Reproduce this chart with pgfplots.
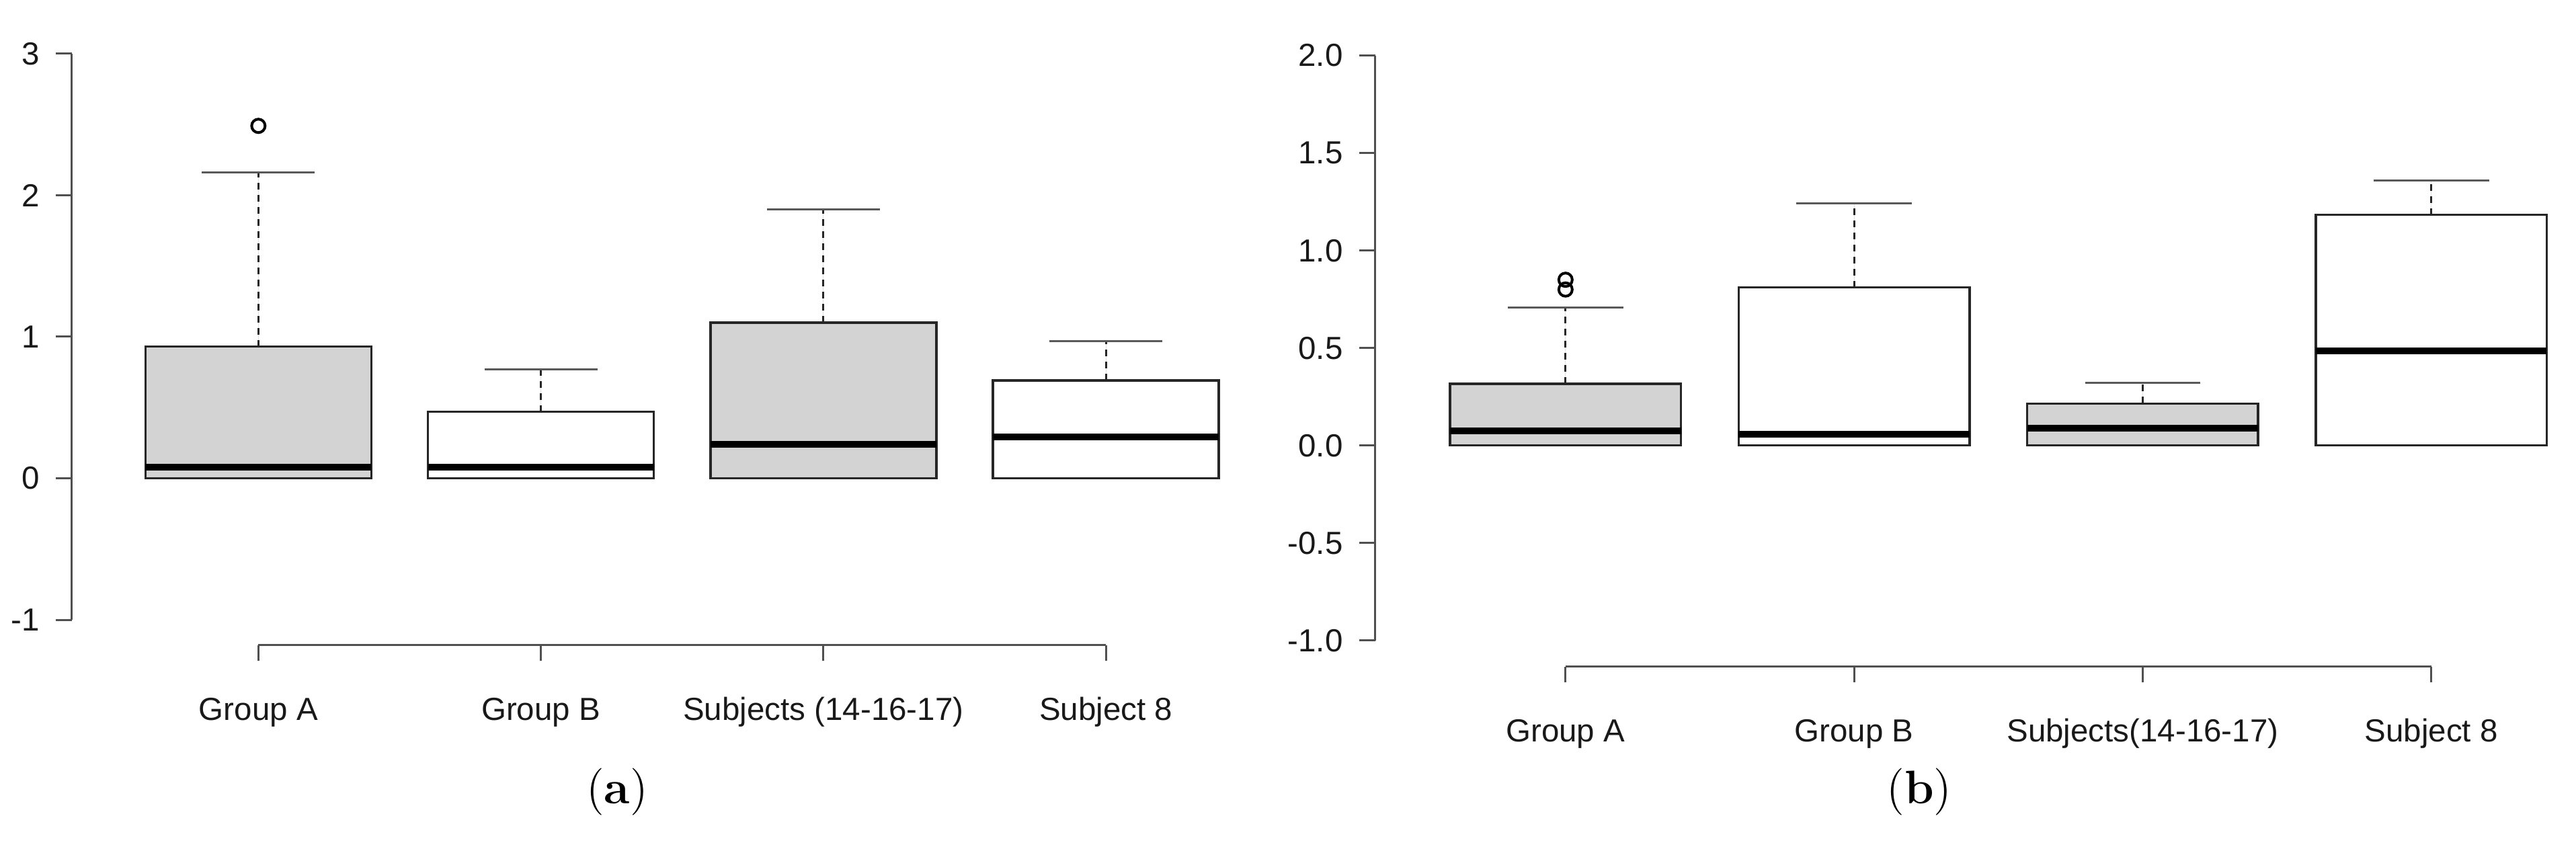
\documentclass[border=0pt]{standalone}
\usepackage{fontspec}
\setsansfont{Liberation Sans}
\usepackage{pgfplots}
\pgfplotsset{compat=1.18}
\usepgfplotslibrary{statistics}

\definecolor{boxgray}{HTML}{D3D3D3}
\definecolor{axgray}{HTML}{505050}

\pgfplotsset{
  rpanel/.style={
    scale only axis,
    axis x line*=bottom, axis y line*=left,
    axis line style={draw=none},
    xmin=0.34, xmax=4.66,
    xtick={1,2,3,4},
    tick align=outside,
    major tick length=4.7pt,
    tick style={axgray, line width=0.6pt},
    tick label style={font=\sffamily\fontsize{9.5}{11}\selectfont, text=black!90},
    yticklabel style={anchor=east, inner sep=0pt, xshift=-4.7pt},
    xticklabel style={anchor=base, inner sep=0pt, yshift=-17.7pt},
    clip=false,
  },
  rbox/.style={
    draw=black!85, line width=0.7pt,
    mark=o, mark size=2pt, mark options={line width=0.8pt, draw=black, solid},
    boxplot/draw direction=y,
    boxplot/box extend=0.8,
    boxplot/whisker extend=0.4,
    boxplot/every median/.style={draw=black, line width=2pt},
    boxplot/every whisker/.style={draw=black!65, line width=0.6pt},
    boxplot/draw/upper whisker/.code={%
      \draw[black!85, line width=0.6pt, dash pattern=on 2pt off 1.6pt]
        (boxplot box cs:\pgfplotsboxplotvalue{upper quartile},0.5) --
        (boxplot box cs:\pgfplotsboxplotvalue{upper whisker},0.5);
      \draw[/pgfplots/boxplot/every whisker/.try]
        (boxplot whisker cs:\pgfplotsboxplotvalue{upper whisker},0) --
        (boxplot whisker cs:\pgfplotsboxplotvalue{upper whisker},1);
    },
    boxplot/draw/lower whisker/.code={%
      \draw[/pgfplots/boxplot/every whisker/.try]
        (boxplot whisker cs:\pgfplotsboxplotvalue{lower whisker},0) --
        (boxplot whisker cs:\pgfplotsboxplotvalue{lower whisker},1);
    },
  },
}

\begin{document}
\begin{tikzpicture}
\useasboundingbox (0,0) rectangle (766.4pt,253.2pt);

% ---- panel (a)
\begin{axis}[rpanel,
    at={(21.4pt,61.2pt)}, anchor=south west,
    width=363.1pt, height=183.6pt,
    ymin=-1.18, ymax=3.18,
    ytick={-1,0,1,2,3}, yticklabels={-1,0,1,2,3},
    xticklabels={Group A,Group B,Subjects (14-16-17),Subject 8},
  ]
  \draw[axgray, line width=0.6pt] (axis cs:0.34,-1) -- (axis cs:0.34,3);
  \draw[axgray, line width=0.6pt] (axis cs:1,-1.18) -- (axis cs:4,-1.18);

  \addplot[rbox, fill=boxgray, boxplot prepared={draw position=1,
      lower whisker=0, lower quartile=0, median=0.08,
      upper quartile=0.93, upper whisker=2.16}]
    coordinates {(0,2.49)};
  \addplot[rbox, fill=white, boxplot prepared={draw position=2,
      lower whisker=0, lower quartile=0, median=0.08,
      upper quartile=0.47, upper whisker=0.77}]
    coordinates {};
  \addplot[rbox, fill=boxgray, boxplot prepared={draw position=3,
      lower whisker=0, lower quartile=0, median=0.24,
      upper quartile=1.10, upper whisker=1.90}]
    coordinates {};
  \addplot[rbox, fill=white, boxplot prepared={draw position=4,
      lower whisker=0, lower quartile=0, median=0.29,
      upper quartile=0.69, upper whisker=0.97}]
    coordinates {};
\end{axis}

% ---- panel (b)
\begin{axis}[rpanel,
    at={(409.1pt,54.8pt)}, anchor=south west,
    width=370.9pt, height=189.7pt,
    ymin=-1.135, ymax=2.135,
    ytick={-1,-0.5,0,0.5,1,1.5,2},
    yticklabels={-1.0,-0.5,0.0,0.5,1.0,1.5,2.0},
    xticklabels={Group A,Group B,Subjects(14-16-17),Subject 8},
  ]
  \draw[axgray, line width=0.6pt] (axis cs:0.34,-1) -- (axis cs:0.34,2);
  \draw[axgray, line width=0.6pt] (axis cs:1,-1.135) -- (axis cs:4,-1.135);

  \addplot[rbox, fill=boxgray, boxplot prepared={draw position=1,
      lower whisker=0, lower quartile=0, median=0.075,
      upper quartile=0.317, upper whisker=0.708}]
    coordinates {(0,0.85) (0,0.80)};
  \addplot[rbox, fill=white, boxplot prepared={draw position=2,
      lower whisker=0, lower quartile=0, median=0.058,
      upper quartile=0.811, upper whisker=1.242}]
    coordinates {};
  \addplot[rbox, fill=boxgray, boxplot prepared={draw position=3,
      lower whisker=0, lower quartile=0, median=0.088,
      upper quartile=0.215, upper whisker=0.322}]
    coordinates {};
  \addplot[rbox, fill=white, boxplot prepared={draw position=4,
      lower whisker=0, lower quartile=0, median=0.484,
      upper quartile=1.183, upper whisker=1.358}]
    coordinates {};
\end{axis}

\node[font=\fontsize{14}{16}\selectfont] at (183.6pt,17.6pt) {(\textbf{a})};
\node[font=\fontsize{14}{16}\selectfont] at (571pt,17.6pt) {(\textbf{b})};
\end{tikzpicture}
\end{document}
